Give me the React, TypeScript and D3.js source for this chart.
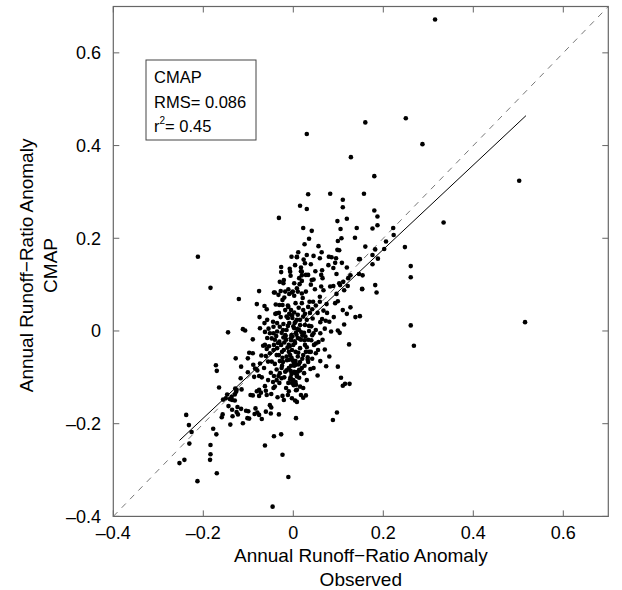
import React from "react";
import * as d3 from "d3";

const xTicks = [-0.4, -0.2, 0, 0.2, 0.4, 0.6];
const yTicks = [-0.4, -0.2, 0, 0.2, 0.4, 0.6];
const tickLabels = ["\u20130.4", "\u20130.2", "0", "0.2", "0.4", "0.6"];
const legendLines = ["CMAP", "RMS= 0.086", "0.45"];
const fitX = [-0.253, 0.517];
const fitSlope = 0.91;
const fitIntercept = -0.006;

// observed (x) / CMAP (y) pairs
const observed = [
  0.315,0.25,0.287,0.16,0.18,0.157,0.18,0.187,0.176,0.187,0.222,0.223,0.334,0.502,0.16,0.182,0.206,0.202,0.248,0.176,0.188,0.148,0.176,0.154,0.153,0.261,0.261,0.182,0.185,0.148,0.261,0.268,0.515,0.03,
  -0.212,-0.184,-0.076,-0.121,
  0.128,0.033,0.082,0.11,0.015,0.03,0.11,-0.032,0.119,0.098,0.022,0.041,0.105,0.141,0.107,0.099,0.035,0.137,0.025,0.056,0.098,0.102,0.011,0.063,-0.004,0.008,0.023,0.045,0.059,0.079,0.085,0.095,0.108,0.146,-0.027,-0.008,0.017,0.039,0.064,0.078,0.089,0.093,0.119,-0.027,0.017,0.049,-0.006,0.019,0.028,0.062,0.096,0.127,0.146,-0.021,-0.03,0.013,0.019,0.045,0.039,0.014,0.065,0.062,0.089,0.102,0.104,0.121,0.153,-0.043,-0.018,-0.009,-0.003,0.002,0.01,0.028,0.048,0.096,0.113,-0.02,0.021,
  -0.064,-0.081,-0.059,-0.075,-0.058,-0.064,-0.112,-0.107,-0.145,-0.09,-0.067,-0.059,-0.054,-0.098,-0.09,-0.071,-0.061,-0.128,-0.101,-0.056,-0.172,-0.17,-0.116,-0.089,-0.085,-0.08,-0.101,-0.076,-0.056,-0.117,-0.165,-0.115,-0.127,-0.13,-0.076,-0.072,-0.081,-0.063,-0.061,-0.059,-0.095,-0.09,-0.076,-0.147,-0.15,-0.137,-0.141,-0.136,-0.156,-0.13,-0.124,-0.116,-0.144,-0.136,-0.105,-0.1,-0.126,-0.123,-0.084,-0.086,-0.08,-0.076,-0.061,-0.07,-0.157,-0.159,-0.135,-0.102,-0.098,-0.14,-0.112,-0.238,-0.232,-0.226,-0.178,-0.171,-0.231,-0.184,-0.063,-0.129,-0.126,-0.074,-0.087,
  -0.184,-0.185,-0.253,-0.242,-0.17,-0.213,-0.043,-0.027,0.018,-0.024,-0.011,-0.046,
  0.127,0.11,0.119,0.138,0.113,0.084,0.099,0.103,0.124,0.065,0.056,0.05,0.05,0.042,0.032,0.073,0.099,0.054,0.106,0.11,0.115,0.125,0.008,0.028,0.022,0.004,-0.024,-0.021,-0.035,-0.049,-0.052,-0.049,-0.05,-0.032,0.006,0.097,0.088,-0.039,-0.024,-0.04,-0.032,-0.009,-0.003,-0.015,0.005,0.019,0.036,0.05,0.059,0.074,0.093,0.099,0.042,0.037,0.026,0.054,0.067,0.075,0.064,0.06,0.072,0.043,0.03,0.015,-0.036,-0.03,-0.022,-0.044,-0.036,-0.026,-0.048,-0.041,-0.031,-0.022,-0.052,-0.044,-0.037,-0.048,-0.041,-0.037,-0.026,-0.03,-0.043,-0.033,-0.026,-0.037,-0.041,-0.044,-0.031,-0.011,-0.006,0,-0.004,0.002,0.008,0.013,
  -0.016,-0.01,-0.003,0.004,0.01,0.015,0.022,-0.007,-0.001,0.006,0.015,0.026,0.033,-0.021,-0.014,-0.027,-0.023,-0.012,0.002,0.013,0.024,0.035,0.042,0.046,0.055,0.026,0.008,-0.012,-0.018,-0.005,0.006,0.017,0.028,0.019,0.01,0.002,-0.01,-0.018,0.013,-0.003,-0.016,-0.012,0.006,0.022,-0.023,-0.032,-0.036,0.05,0.039,0.033,0.024,0.03,0.017,0.008,
  -0.041,-0.033,-0.028,-0.024,-0.031,-0.037,-0.022,-0.011,0.002,-0.001,0.008,0.019,-0.007,0.004,0.008,0.019,0.026,0.03,0.033,0.041,-0.074,-0.063,-0.052,-0.044,-0.038,-0.063,-0.043,-0.015,-0.009,-0.004,0.015,0.022,0.033,0.044,0.059,0.067,0.082,0.111,0.122,
  -0.005,0,0.005,0.01,-0.01,-0.015,-0.02,-0.025,0.02,0.025,0.03,0.035,0.02,0.025,0.015,0.005,-0.005,-0.015,-0.02,-0.01,0.005,0.015,-0.03,-0.025,0,0.005,0.01,-0.005,-0.012,0.012,0.022,0.04,0.045,0.04,0.035,-0.028,-0.018,-0.045,-0.055,-0.058,0.06,0.07,0.08,0.09,0.07,0.08,0.06,0.045,-0.065,-0.07,-0.05,-0.045,
  -0.002,0.003,-0.008,0.007,-0.004,0.001,0.011,-0.013,0.004,-0.007,0.009,-0.002,0.014,-0.017,0.001,0.006,-0.009,0.003,0.012,-0.006,0.018,-0.024,0.027,0.032,-0.034,0.038,-0.003,0.002,0.008,-0.011,
];
const cmap = [
  0.672,0.459,0.403,0.45,0.334,0.296,0.26,0.247,0.221,0.228,0.222,0.207,0.234,0.324,0.182,0.176,0.193,0.177,0.181,0.164,0.156,0.155,0.144,0.12,0.09,0.14,0.116,0.099,0.083,0.032,0.012,-0.032,0.019,0.425,
  0.16,0.093,0.086,0.069,
  0.375,0.295,0.296,0.283,0.27,0.263,0.267,0.244,0.242,0.237,0.222,0.216,0.22,0.222,0.2,0.194,0.199,0.201,0.187,0.183,0.175,0.174,0.17,0.17,0.16,0.159,0.154,0.162,0.157,0.16,0.159,0.157,0.147,0.155,0.138,0.134,0.137,0.144,0.131,0.142,0.136,0.147,0.137,0.127,0.129,0.129,0.119,0.12,0.121,0.121,0.123,0.12,0.123,0.11,0.106,0.114,0.108,0.111,0.1,0.101,0.114,0.096,0.097,0.103,0.099,0.097,0.091,0.083,0.085,0.08,0.083,0.076,0.085,0.085,0.09,0.08,0.088,0.072,0.071,
  0.054,0.058,0.047,0.03,0.024,0.017,0.004,0.001,-0.003,-0.018,-0.032,-0.039,-0.033,-0.047,-0.048,-0.053,-0.054,-0.059,-0.059,-0.066,-0.074,-0.086,-0.077,-0.073,-0.081,-0.085,-0.089,-0.097,-0.106,-0.102,-0.122,-0.126,-0.131,-0.137,-0.127,-0.133,-0.13,-0.119,-0.129,-0.138,-0.138,-0.139,-0.14,-0.137,-0.145,-0.142,-0.147,-0.149,-0.148,-0.15,-0.164,-0.168,-0.162,-0.17,-0.172,-0.173,-0.175,-0.18,-0.167,-0.179,-0.176,-0.181,-0.174,-0.19,-0.18,-0.186,-0.184,-0.188,-0.189,-0.202,-0.199,-0.181,-0.203,-0.218,-0.211,-0.223,-0.243,-0.246,-0.247,-0.124,-0.127,-0.07,-0.099,
  -0.266,-0.278,-0.285,-0.278,-0.307,-0.324,-0.227,-0.223,-0.222,-0.267,-0.315,-0.379,
  0.051,0.045,0.037,0.03,0.014,-0.001,0.001,-0.004,-0.029,-0.019,-0.024,-0.027,-0.048,-0.06,-0.057,-0.076,-0.077,-0.096,-0.101,-0.118,-0.114,-0.114,-0.127,-0.139,-0.144,-0.15,-0.14,-0.149,-0.143,-0.136,-0.16,-0.165,-0.178,-0.18,-0.188,-0.176,-0.192,0.057,0.056,0.037,0.039,0.037,0.034,0.031,0.06,0.06,0.063,0.055,0.063,0.058,0.06,0.064,0.047,0.039,0.037,0.039,0.044,0.039,0.026,0.019,0.022,0.027,0.024,0.024,0.017,0.009,0.015,-0.005,-0.001,-0.004,-0.016,-0.019,-0.023,-0.014,-0.048,-0.041,-0.052,-0.066,-0.071,-0.083,-0.08,-0.091,-0.097,-0.097,-0.102,-0.106,-0.12,-0.123,-0.112,-0.112,-0.1,-0.106,-0.093,-0.088,-0.095,-0.084,
  -0.019,-0.03,-0.041,-0.026,-0.015,-0.037,-0.052,-0.052,-0.063,-0.073,-0.067,-0.03,-0.019,-0.041,-0.063,-0.03,0.002,0.011,0.006,0.002,-0.004,0.011,-0.009,-0.03,-0.041,0.013,0.024,0.028,-0.009,-0.015,-0.004,-0.019,-0.045,-0.08,-0.088,-0.075,-0.08,-0.088,-0.101,-0.112,-0.123,-0.138,-0.116,-0.123,-0.067,-0.052,-0.037,0.002,-0.045,-0.067,-0.091,-0.106,-0.138,-0.153,
  0.083,0.078,0.086,0.067,0.056,0.038,0.103,0.09,0.103,0.085,0.092,0.081,0.128,0.142,0.16,0.128,0.146,0.164,0.121,0.11,0.006,-0.002,-0.005,0.009,-0.011,-0.03,-0.03,0.002,0.017,-0.009,0.013,0.031,0.052,0.063,0.074,0.088,0.096,0.106,0.114,
  -0.02,-0.03,-0.045,-0.055,-0.045,-0.055,-0.025,-0.045,-0.01,-0.02,-0.035,-0.045,-0.06,-0.075,-0.085,-0.065,-0.075,-0.085,-0.1,-0.13,-0.11,-0.12,-0.065,-0.075,0.01,0.02,0.035,0.045,0.055,0.05,0.045,0.01,-0.005,-0.02,0,0.03,0.045,0.02,0.005,-0.015,-0.005,0.005,0.02,0.03,-0.04,-0.055,-0.065,-0.08,-0.08,-0.1,-0.09,-0.11,
  -0.012,-0.022,-0.033,-0.008,-0.058,-0.068,-0.047,-0.036,-0.091,-0.104,0.004,0.028,-0.017,-0.011,-0.117,-0.128,-0.062,0.017,-0.072,-0.086,-0.003,-0.058,-0.012,-0.062,-0.026,-0.082,-0.145,0.04,-0.098,0.052,
];

const W = 622;
const H = 590;
const FONT = "'Liberation Sans', Arial, Helvetica, sans-serif";

export default function App() {
  const x = d3.scaleLinear().domain([-0.4, 0.7]).range([113.3, 608.3]);
  const y = d3.scaleLinear().domain([-0.4, 0.7]).range([516.4, 6.5]);
  const [x0, x1] = x.range();
  const [y0, y1] = y.range();
  const n = Math.min(observed.length, cmap.length);
  const pts = d3.range(n).map((i) => [observed[i], cmap[i]]);
  const fitLine = d3.line<number>()
    .x((v) => x(v))
    .y((v) => y(fitSlope * v + fitIntercept));
  const diag = d3.line<number>().x((v) => x(v)).y((v) => y(v));
  const tickLen = 6;
  const axisColor = "#666";
  const xMid = (x0 + x1) / 2;

  return (
    <svg width={W} height={H} style={{ position: "absolute", left: 0, top: 0, background: "#fff" }} fontFamily={FONT}>
      <rect x={0} y={0} width={W} height={H} fill="#fff" />
      {/* frame */}
      <rect x={x0} y={y1} width={x1 - x0} height={y0 - y1} fill="none" stroke={axisColor} strokeWidth={1.2} />
      {/* ticks */}
      {xTicks.map((t, i) => (
        <g key={"xt" + i}>
          <line x1={x(t)} x2={x(t)} y1={y0} y2={y0 - tickLen} stroke={axisColor} />
          <line x1={x(t)} x2={x(t)} y1={y1} y2={y1 + tickLen} stroke={axisColor} />
          <text x={x(t)} y={539} textAnchor="middle" fontSize={18} fill="#000">{tickLabels[i]}</text>
        </g>
      ))}
      {yTicks.map((t, i) => (
        <g key={"yt" + i}>
          <line x1={x0} x2={x0 + tickLen} y1={y(t)} y2={y(t)} stroke={axisColor} />
          <line x1={x1} x2={x1 - tickLen} y1={y(t)} y2={y(t)} stroke={axisColor} />
          <text x={101} y={y(t) + 6.5} textAnchor="end" fontSize={18} fill="#000">{tickLabels[i]}</text>
        </g>
      ))}
      {/* 1:1 line */}
      <path d={diag([-0.4, 0.7]) || ""} fill="none" stroke="#777" strokeWidth={1} strokeDasharray="6,6" />
      {/* regression line */}
      <path d={fitLine(fitX) || ""} fill="none" stroke="#000" strokeWidth={1} />
      {/* points */}
      {pts.map((p, i) => (
        <circle key={i} cx={x(p[0])} cy={y(p[1])} r={2.3} fill="#000" />
      ))}
      {/* legend */}
      <rect x={146} y={60} width={110} height={80} fill="#fff" stroke="#444" strokeWidth={1} />
      <text x={154} y={83} fontSize={16.5} fill="#000">{legendLines[0]}</text>
      <text x={154} y={108} fontSize={16.5} fill="#000">{legendLines[1]}</text>
      <text x={154} y={132} fontSize={16.5} fill="#000">
        r<tspan fontSize={10} dy={-8}>2</tspan><tspan dy={8}>= {legendLines[2]}</tspan>
      </text>
      {/* axis titles */}
      <text x={xMid} y={562} textAnchor="middle" fontSize={19} fill="#000">Annual Runoff−Ratio Anomaly</text>
      <text x={xMid} y={586} textAnchor="middle" fontSize={19} fill="#000">Observed</text>
      <g transform={`translate(33, ${(y0 + y1) / 2 + 4}) rotate(-90)`}>
        <text x={0} y={0} textAnchor="middle" fontSize={19} fill="#000">Annual Runoff−Ratio Anomaly</text>
      </g>
      <g transform={`translate(57, ${(y0 + y1) / 2 + 4}) rotate(-90)`}>
        <text x={0} y={0} textAnchor="middle" fontSize={19} fill="#000">CMAP</text>
      </g>
    </svg>
  );
}
